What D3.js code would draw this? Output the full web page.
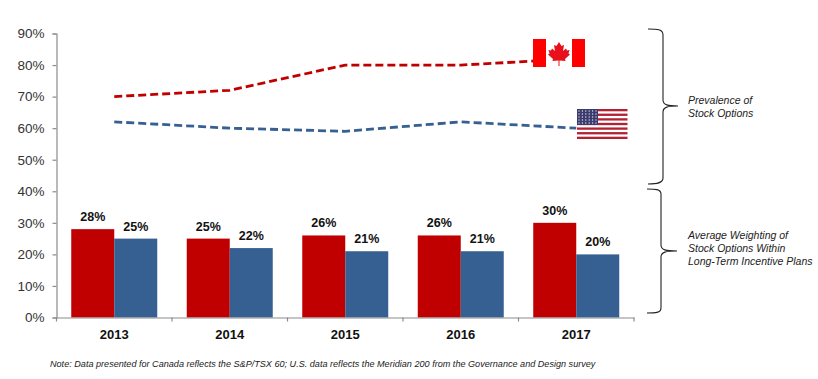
<!DOCTYPE html>
<html>
<head>
<meta charset="utf-8">
<script src="https://cdn.jsdelivr.net/npm/d3@7"></script>
<style>
  html, body { margin: 0; padding: 0; background: #fff; }
  text { font-family: "Liberation Sans", Arial, sans-serif; }
</style>
</head>
<body>
<svg id="chart" width="818" height="379"></svg>
<script>
const years = ["2013", "2014", "2015", "2016", "2017"];
const canadaBars = [28, 25, 26, 26, 30];
const usBars = [25, 22, 21, 21, 20];
const canadaLine = [70, 72, 80, 80, 82];
const usLine = [62, 60, 59, 62, 60];
const yTicks = [0, 10, 20, 30, 40, 50, 60, 70, 80, 90];
const prevalenceLabel = ["Prevalence of", "Stock Options"];
const weightingLabel = ["Average Weighting of", "Stock Options Within", "Long-Term Incentive Plans"];
const note = "Note: Data presented for Canada reflects the S&P/TSX 60; U.S. data reflects the Meridian 200 from the Governance and Design survey";

const red = "#c00000";
const blue = "#366092";

const svg = d3.select("#chart");

const x = d3.scaleBand().domain(years).range([56.5, 634]);
const y = d3.scaleLinear().domain([0, 90]).range([317.5, 33.5]);
const barW = 43;

// bars
const groups = svg.selectAll("g.year")
    .data(years)
    .enter()
    .append("g")
    .attr("class", "year");

groups.append("rect")
    .attr("x", d => x(d) + x.bandwidth() / 2 - barW)
    .attr("y", (d, i) => y(canadaBars[i]))
    .attr("width", barW)
    .attr("height", (d, i) => y(0) - y(canadaBars[i]))
    .attr("fill", red);

groups.append("rect")
    .attr("x", d => x(d) + x.bandwidth() / 2)
    .attr("y", (d, i) => y(usBars[i]))
    .attr("width", barW)
    .attr("height", (d, i) => y(0) - y(usBars[i]))
    .attr("fill", blue);

groups.append("text")
    .attr("x", d => x(d) + x.bandwidth() / 2 - barW / 2)
    .attr("y", (d, i) => y(canadaBars[i]) - 8)
    .attr("text-anchor", "middle")
    .attr("font-size", 12.5)
    .attr("font-weight", "bold")
    .attr("fill", "#111")
    .text((d, i) => canadaBars[i] + "%");

groups.append("text")
    .attr("x", d => x(d) + x.bandwidth() / 2 + barW / 2)
    .attr("y", (d, i) => y(usBars[i]) - 8)
    .attr("text-anchor", "middle")
    .attr("font-size", 12.5)
    .attr("font-weight", "bold")
    .attr("fill", "#111")
    .text((d, i) => usBars[i] + "%");

// axes
const yAxis = d3.axisLeft(y).tickValues(yTicks).tickFormat(d => d + "%").tickSize(4).tickPadding(8);
const xAxis = d3.axisBottom(x).tickSize(0).tickPadding(12);

const gy = svg.append("g").attr("transform", "translate(56.5,0)").call(yAxis);
gy.selectAll("path, line").attr("stroke", "#8c8c8c").attr("stroke-width", 1.2);
gy.selectAll("text").attr("font-size", 13.5).attr("fill", "#333").attr("font-family", "Liberation Sans");

const gx = svg.append("g").attr("transform", "translate(0,317.5)").call(xAxis);
gx.selectAll("path").attr("stroke", "#8c8c8c").attr("stroke-width", 1.2);
gx.selectAll("text").attr("font-size", 13).attr("font-weight", "bold").attr("fill", "#111").attr("font-family", "Liberation Sans");

// year separators on the x axis
svg.selectAll("line.sep")
    .data(years.concat("end"))
    .enter()
    .append("line")
    .attr("class", "sep")
    .attr("x1", (d, i) => 56.5 + i * x.step())
    .attr("x2", (d, i) => 56.5 + i * x.step())
    .attr("y1", 317.5)
    .attr("y2", 321.5)
    .attr("stroke", "#8c8c8c")
    .attr("stroke-width", 1.2);

// dashed lines
const line = d3.line()
    .x((d, i) => x(years[i]) + x.bandwidth() / 2)
    .y(d => y(d));

svg.append("path")
    .attr("d", line(canadaLine))
    .attr("fill", "none")
    .attr("stroke", red)
    .attr("stroke-width", 2.8)
    .attr("stroke-dasharray", "8 4");

svg.append("path")
    .attr("d", line(usLine))
    .attr("fill", "none")
    .attr("stroke", blue)
    .attr("stroke-width", 2.8)
    .attr("stroke-dasharray", "8 4");

// canadian flag
const ca = svg.append("g").attr("transform", "translate(533,39)");
ca.append("rect").attr("width", 52).attr("height", 28).attr("fill", "#fff");
ca.append("rect").attr("width", 13).attr("height", 28).attr("fill", "#ff0000");
ca.append("rect").attr("x", 39).attr("width", 13).attr("height", 28).attr("fill", "#ff0000");
ca.append("path")
    .attr("d", "M26 3 L28.5 7 L31 6 L30 12 L33 9.5 L34 11.5 L36.5 11 L35.5 14.5 L37 15.5 L32 20 L32.5 22 L26.5 21.5 L26.5 27 L25.5 27 L25.5 21.5 L19.5 22 L20 20 L15 15.5 L16.5 14.5 L15.5 11 L18 11.5 L19 9.5 L22 12 L21 6 L23.5 7 Z")
    .attr("fill", "#e8101a");

// us flag
const us = svg.append("g").attr("transform", "translate(577,109)");
us.append("rect").attr("width", 50.5).attr("height", 30).attr("fill", "#fff");
us.selectAll("rect.stripe")
    .data(d3.range(7))
    .enter()
    .append("rect")
    .attr("class", "stripe")
    .attr("y", d => d * 30 / 6.5)
    .attr("width", 50.5)
    .attr("height", 30 / 13)
    .attr("fill", "#b22234");
us.append("rect").attr("width", 21).attr("height", 16).attr("fill", "#3c3b6e");
us.selectAll("circle.star")
    .data(d3.range(30))
    .enter()
    .append("circle")
    .attr("class", "star")
    .attr("cx", d => 2 + (d % 6) * 3.4)
    .attr("cy", d => 2 + Math.floor(d / 6) * 3)
    .attr("r", 0.7)
    .attr("fill", "#d8d8e8");

// brackets
const brackets = [
    "M648 29 C657 29 663 29 663 35 L663 100 C663 105 668 106 678 106 C668 106 663 107 663 112 L663 178 C663 183 657 184 648 184",
    "M647 189 C655 189 661 189 661 194 L661 245 C661 250 666 251 677 251 C666 251 661 252 661 257 L661 308 C661 313 655 313 647 313"
];
svg.selectAll("path.bracket")
    .data(brackets)
    .enter()
    .append("path")
    .attr("class", "bracket")
    .attr("d", d => d)
    .attr("fill", "none")
    .attr("stroke", "#222")
    .attr("stroke-width", 1.1);

// side notes
svg.selectAll("text.prev")
    .data(prevalenceLabel)
    .enter()
    .append("text")
    .attr("class", "prev")
    .attr("x", 688)
    .attr("y", (d, i) => 104 + i * 12.8)
    .attr("font-size", 10.5)
    .attr("font-style", "italic")
    .attr("fill", "#222")
    .text(d => d);

svg.selectAll("text.weight")
    .data(weightingLabel)
    .enter()
    .append("text")
    .attr("class", "weight")
    .attr("x", 688)
    .attr("y", (d, i) => 239 + i * 12.8)
    .attr("font-size", 10.5)
    .attr("font-style", "italic")
    .attr("fill", "#222")
    .text(d => d);

svg.append("text")
    .attr("x", 50)
    .attr("y", 367)
    .attr("font-size", 9.1)
    .attr("font-style", "italic")
    .attr("fill", "#222")
    .text(note);
</script>
</body>
</html>
